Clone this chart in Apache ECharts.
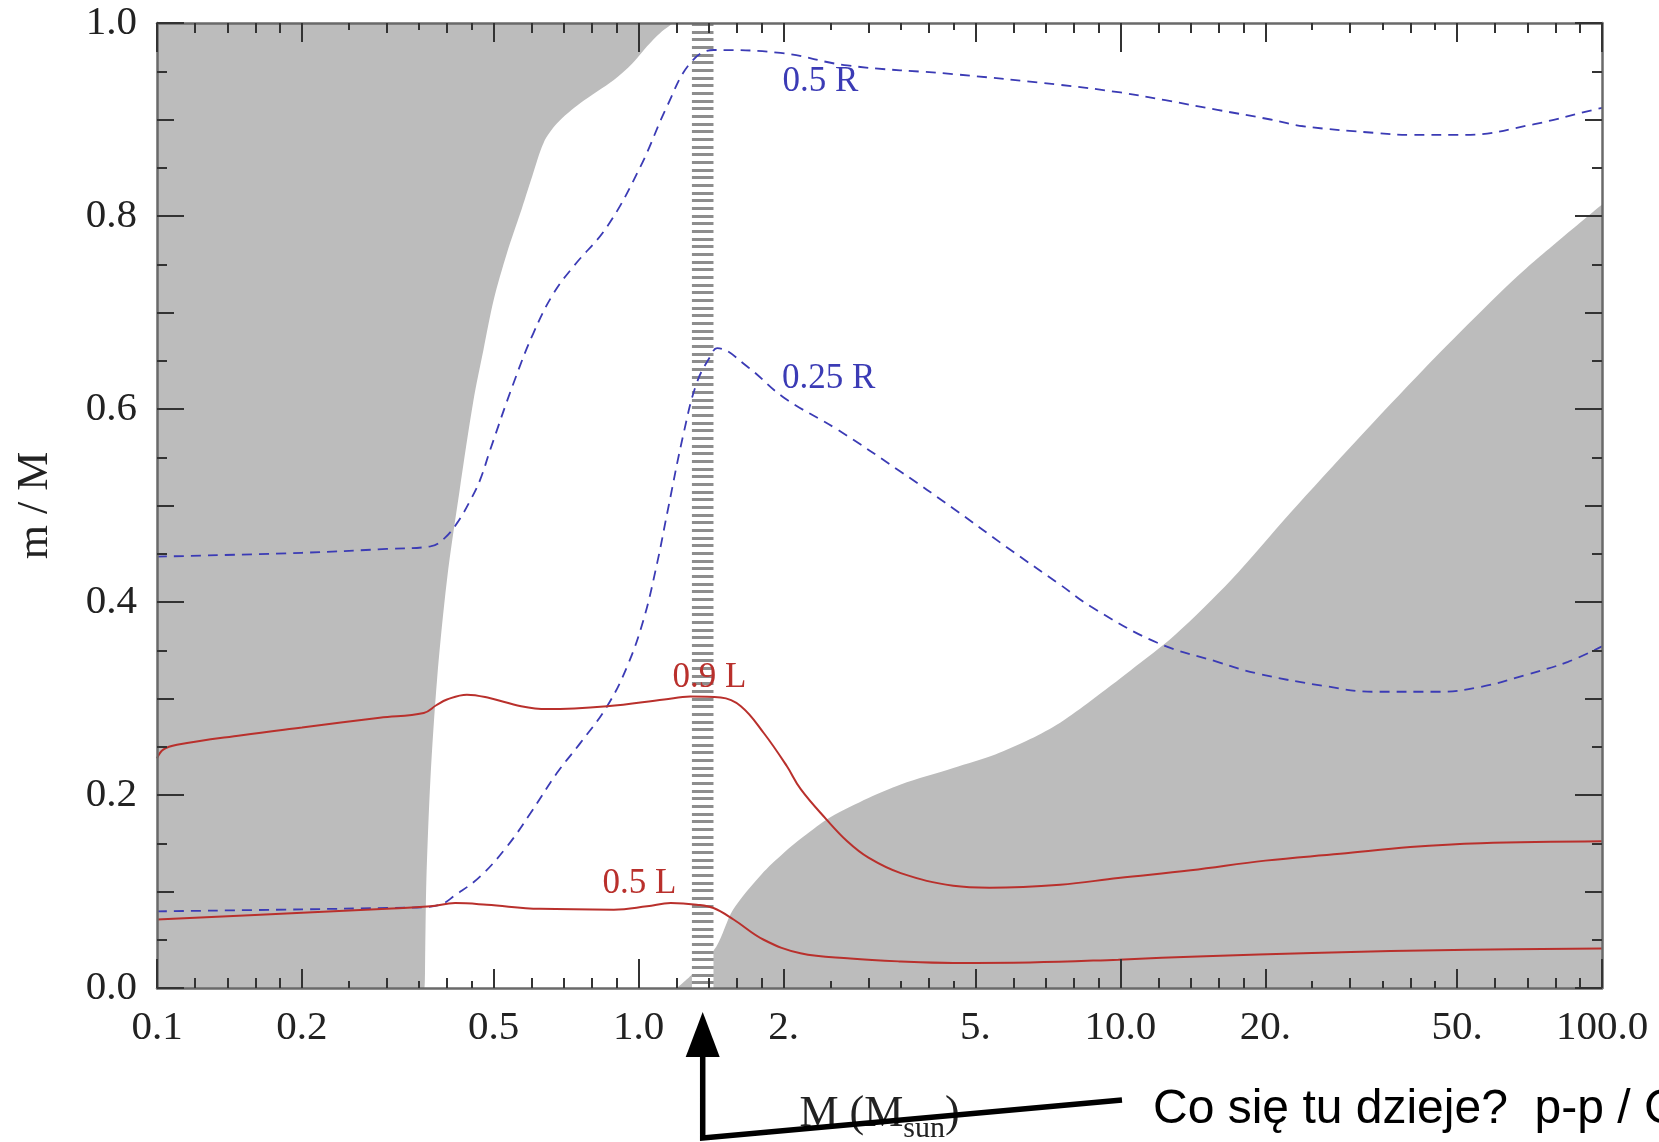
<!DOCTYPE html>
<html>
<head>
<meta charset="utf-8">
<script src="https://cdn.jsdelivr.net/npm/echarts@6/dist/echarts.min.js"></script>
<style>
  html, body { margin: 0; padding: 0; background: #ffffff; }
  #chart { width: 1659px; height: 1142px; }
</style>
</head>
<body>
<div id="chart"></div>
<script>
// ---- stellar mass axis (M / Msun, logarithmic) ----
const massLabelValues = [0.1, 0.2, 0.5, 1, 2, 5, 10, 20, 50, 100];
const massLabelText   = ['0.1', '0.2', '0.5', '1.0', '2.', '5.', '10.0', '20.', '50.', '100.0'];
const massTicksDecade = [0.1, 1, 10, 100];
const massTicksMajor  = [0.2, 0.5, 2, 5, 20, 50];
const massTicksMinor  = [0.12, 0.14, 0.16, 0.18, 0.3, 0.4, 0.6, 0.7, 0.8, 0.9,
                         1.2, 1.4, 1.6, 1.8, 3, 4, 6, 7, 8, 9,
                         12, 14, 16, 18, 30, 40, 60, 70, 80, 90];
const massTicksFine   = [0.25, 0.35, 0.45, 2.5, 3.5, 4.5, 25, 35, 45];

// ---- mass fraction axis (m / M) ----
const fracLabelValues = [0, 0.2, 0.4, 0.6, 0.8, 1.0];
const fracTicksMid    = [0.1, 0.3, 0.5, 0.7, 0.9];
const fracTicksShort  = [0.05, 0.15, 0.25, 0.35, 0.45, 0.55, 0.65, 0.75, 0.85, 0.95];

// ---- convective zones: [M, m/M] on the boundary ----
// envelope convection (shaded from the boundary up to m/M = 1)
const envelopeConvection = [
  [0.1, 0], [0.359, 0], [0.3605, 0.04], [0.3625, 0.113], [0.3695, 0.216], [0.3815, 0.32],
  [0.400, 0.423], [0.425, 0.516], [0.454, 0.609], [0.476, 0.661], [0.500, 0.713],
  [0.533, 0.762], [0.568, 0.803], [0.601, 0.841], [0.635, 0.876], [0.677, 0.896],
  [0.757, 0.917], [0.888, 0.941], [0.97, 0.958], [1.041, 0.976], [1.11, 0.99], [1.18, 1.0]
];
// core convection (shaded from m/M = 0 up to the boundary)
const coreConvection = [
  [1.2, 0], [1.29, 0.014], [1.45, 0.043], [1.57, 0.081], [1.8, 0.118], [2.0, 0.14],
  [2.2, 0.157], [2.5, 0.177], [3.0, 0.197], [3.5, 0.211], [4.5, 0.228], [5.5, 0.242],
  [6.5, 0.258], [7.5, 0.275], [8.7, 0.298], [10.5, 0.329], [13, 0.366], [17, 0.423],
  [22.5, 0.492], [31, 0.568], [42.6, 0.641], [54, 0.693], [69, 0.744], [100, 0.812]
];
// mass range where the p-p chain gives way to the CNO cycle
const transitionBand = [1.29, 1.43];

// ---- mass coordinate enclosing a given fraction of radius / luminosity ----
const radiusHalf = [
  [0.1, 0.447], [0.2, 0.451], [0.3, 0.455], [0.3695, 0.4576], [0.395, 0.466], [0.42, 0.482],
  [0.448, 0.506], [0.469, 0.527], [0.492, 0.558], [0.55, 0.627], [0.605, 0.679], [0.666, 0.72],
  [0.733, 0.748], [0.86, 0.789], [1.008, 0.851], [1.146, 0.914], [1.28, 0.9585], [1.432, 0.972],
  [1.97, 0.969], [2.71, 0.956], [4.5, 0.947], [7.46, 0.936], [10, 0.928], [12.4, 0.92],
  [15.9, 0.91], [20.5, 0.9], [24, 0.893], [34, 0.886], [40, 0.884], [52, 0.884], [72, 0.895],
  [96, 0.91], [100, 0.912]
];
const radiusQuarter = [
  [0.1, 0.0794], [0.2, 0.0815], [0.3, 0.083], [0.359, 0.0838], [0.39, 0.087], [0.413, 0.095],
  [0.469, 0.1157], [0.533, 0.1467], [0.596, 0.181], [0.677, 0.223], [0.757, 0.254], [0.86, 0.292],
  [0.946, 0.333], [1.024, 0.382], [1.092, 0.44], [1.146, 0.492], [1.24, 0.575], [1.32, 0.627],
  [1.41, 0.655], [1.455, 0.663], [1.68, 0.644], [2.0, 0.612], [2.6, 0.578], [3.5, 0.535],
  [4.5, 0.497], [5.8, 0.457], [7.5, 0.418], [8.7, 0.395], [11.9, 0.358], [15.9, 0.338],
  [19.2, 0.326], [26.5, 0.313], [33.6, 0.307], [46, 0.307], [56, 0.312], [69, 0.324],
  [85, 0.338], [100, 0.354]
];
const luminosity90 = [
  [0.1, 0.238], [0.103, 0.247], [0.11, 0.252], [0.15, 0.262], [0.2, 0.27], [0.29, 0.28],
  [0.358, 0.285], [0.38, 0.293], [0.40, 0.299], [0.44, 0.304], [0.49, 0.3005], [0.57, 0.292],
  [0.645, 0.289], [0.86, 0.292], [1.13, 0.299], [1.28, 0.302], [1.48, 0.301], [1.63, 0.292],
  [1.82, 0.264], [2.03, 0.23], [2.17, 0.206], [2.45, 0.175], [2.71, 0.152], [3.0, 0.135],
  [3.5, 0.119], [4.5, 0.106], [5.35, 0.104], [7.5, 0.107], [9.9, 0.114], [14, 0.122],
  [20, 0.132], [28.6, 0.139], [40, 0.146], [56, 0.15], [100, 0.152]
];
const luminosity50 = [
  [0.1, 0.071], [0.2, 0.078], [0.3, 0.082], [0.3695, 0.0846], [0.416, 0.088], [0.484, 0.0863],
  [0.624, 0.082], [0.888, 0.0812], [1.041, 0.0846], [1.166, 0.088], [1.32, 0.0863],
  [1.43, 0.0829], [1.574, 0.071], [1.818, 0.05], [2.167, 0.036], [2.75, 0.0305], [3.5, 0.0275],
  [4.5, 0.026], [6.5, 0.0265], [9.9, 0.0294], [15, 0.033], [25, 0.0363], [53, 0.0397],
  [100, 0.041]
];

const curveNames = ['0.5 R', '0.25 R', '0.9 L', '0.5 L'];

// ---------------------------------------------------------------
const lg = Math.log10;
const toXY = pts => pts.map(([m, f]) => [lg(m), f]);

const SERIF = '"Liberation Serif", "Times New Roman", serif';
const FRAME = '#6a6a6a';
const TICK = '#333333';
const SHADE = '#bcbcbc';
const BLUE = '#3b3bb5';
const RED = '#b9302c';

// striped fill for the p-p / CNO transition band
function stripePattern() {
  const c = document.createElement('canvas');
  c.width = 4; c.height = 23;
  const g = c.getContext('2d');
  g.fillStyle = '#ffffff';
  g.fillRect(0, 0, 4, 23);
  g.fillStyle = '#8d8d8d';
  [0, 8, 15].forEach(y => g.fillRect(0, y, 4, 3));
  return c;
}

function massAxis(position, ticks, len, withLine, withLabels) {
  const ax = {
    type: 'value', position, min: -1, max: 2, z: 10,
    splitLine: { show: false },
    axisLine: { show: withLine, onZero: false, lineStyle: { color: FRAME, width: 2.5 } },
    axisTick: {
      show: true, inside: true, length: len,
      customValues: ticks.map(lg),
      lineStyle: { color: TICK, width: 2 }
    },
    axisLabel: { show: false }
  };
  if (withLabels) {
    ax.axisLabel = {
      show: true,
      customValues: massLabelValues.map(lg),
      margin: 20,
      fontFamily: SERIF, fontSize: 41, color: '#222',
      formatter: v => {
        const i = massLabelValues.findIndex(m => Math.abs(lg(m) - v) < 1e-6);
        return i >= 0 ? massLabelText[i] : '';
      }
    };
    ax.name = '{a|M (M}{s|sun}{a|)}';
    ax.nameLocation = 'middle';
    ax.nameGap = 104;
    ax.nameTextStyle = {
      fontFamily: SERIF, fontSize: 44, color: '#222',
      rich: {
        a: { fontFamily: SERIF, fontSize: 44, color: '#222', padding: [0, 0, 8, 0] },
        s: { fontFamily: SERIF, fontSize: 30, color: '#222', verticalAlign: 'bottom' }
      }
    };
  }
  return ax;
}

function fracAxis(position, ticks, len, withLine, withLabels) {
  const ax = {
    type: 'value', position, min: 0, max: 1, z: 10,
    splitLine: { show: false },
    axisLine: { show: withLine, onZero: false, lineStyle: { color: FRAME, width: 2.5 } },
    axisTick: {
      show: true, inside: true, length: len,
      customValues: ticks,
      lineStyle: { color: TICK, width: 2 }
    },
    axisLabel: { show: false }
  };
  if (withLabels) {
    ax.axisLabel = {
      show: true, customValues: fracLabelValues, margin: 20,
      fontFamily: SERIF, fontSize: 41, color: '#222',
      formatter: v => v.toFixed(1)
    };
    ax.name = 'm / M';
    ax.nameLocation = 'middle';
    ax.nameRotate = 90;
    ax.nameGap = 100;
    ax.nameTextStyle = { fontFamily: SERIF, fontSize: 44, color: '#222' };
  }
  return ax;
}

function curve(name, pts, color, dashed, labelAt) {
  return {
    name, type: 'line', data: toXY(pts), xAxisIndex: 0, yAxisIndex: 0,
    showSymbol: false, smooth: 0.4, z: 4, silent: true,
    lineStyle: dashed
      ? { color, width: 1.8, type: [10, 7] }
      : { color, width: 2 },
    markPoint: {
      z: 5, silent: true,
      symbol: 'circle', symbolSize: 1,
      itemStyle: { color: 'transparent' },
      label: { show: true, position: 'inside', formatter: name,
               fontFamily: SERIF, fontSize: 35, color },
      data: [{ coord: labelAt }]
    }
  };
}

const chart = echarts.init(document.getElementById('chart'), null, { renderer: 'canvas' });

const option = {
  animation: false,
  backgroundColor: '#ffffff',
  grid: { left: 157, right: 57, top: 23, bottom: 154, containLabel: false, outerBoundsMode: 'none' },
  xAxis: [
    massAxis('bottom', massTicksDecade, 29, true, true),
    massAxis('bottom', massTicksMajor, 19, false, false),
    massAxis('bottom', massTicksMinor, 10, false, false),
    massAxis('bottom', massTicksFine, 7, false, false),
    massAxis('top', massTicksDecade, 29, true, false),
    massAxis('top', massTicksMajor, 19, false, false),
    massAxis('top', massTicksMinor, 10, false, false),
    massAxis('top', massTicksFine, 7, false, false)
  ],
  yAxis: [
    fracAxis('left', fracLabelValues, 27, true, true),
    fracAxis('left', fracTicksMid, 17, false, false),
    fracAxis('left', fracTicksShort, 10, false, false),
    fracAxis('right', fracLabelValues, 27, true, false),
    fracAxis('right', fracTicksMid, 17, false, false),
    fracAxis('right', fracTicksShort, 10, false, false)
  ],
  series: [
    {
      name: 'envelope convection', type: 'line', data: toXY(envelopeConvection),
      showSymbol: false, smooth: 0.3, z: 1, silent: true,
      lineStyle: { width: 0, opacity: 0 },
      areaStyle: { color: SHADE, opacity: 1, origin: 'end' }
    },
    {
      name: 'core convection', type: 'line', data: toXY(coreConvection),
      showSymbol: false, smooth: 0.3, z: 1, silent: true,
      lineStyle: { width: 0, opacity: 0 },
      areaStyle: { color: SHADE, opacity: 1, origin: 'start' },
      markArea: {
        z: 3, silent: true,
        itemStyle: { color: { image: stripePattern(), repeat: 'repeat' }, opacity: 1 },
        data: [[{ xAxis: lg(transitionBand[0]), yAxis: 0 }, { xAxis: lg(transitionBand[1]), yAxis: 1 }]]
      }
    },
    curve(curveNames[0], radiusHalf, BLUE, true, [lg(2.384), 0.9387]),
    curve(curveNames[1], radiusQuarter, BLUE, true, [lg(2.48), 0.6316]),
    curve(curveNames[2], luminosity90, RED, false, [lg(1.402), 0.3213]),
    curve(curveNames[3], luminosity50, RED, false, [lg(1.0035), 0.1076])
  ]
};

chart.setOption(option);

// arrow pointing at the transition band, and the question beside it
const bandCentre = lg(Math.sqrt(transitionBand[0] * transitionBand[1]));
const ax = chart.convertToPixel({ xAxisIndex: 0 }, bandCentre);
chart.setOption({
  graphic: [
    {
      type: 'polyline', z: 100, silent: true,
      shape: { points: [[1122, 1100], [ax, 1138], [ax, 1050]] },
      style: { stroke: '#000', lineWidth: 5.5, fill: null, lineJoin: 'miter' }
    },
    {
      type: 'polygon', z: 100, silent: true,
      shape: { points: [[ax, 1012], [ax - 17, 1057], [ax + 17, 1057]] },
      style: { fill: '#000' }
    },
    {
      type: 'text', z: 100, silent: true, x: 1153, y: 1110,
      style: {
        text: 'Co się tu dzieje?  p-p / CNO',
        font: '48px "Liberation Sans", Arial, sans-serif',
        fill: '#000', verticalAlign: 'middle', textVerticalAlign: 'middle'
      }
    }
  ]
});
</script>
</body>
</html>
